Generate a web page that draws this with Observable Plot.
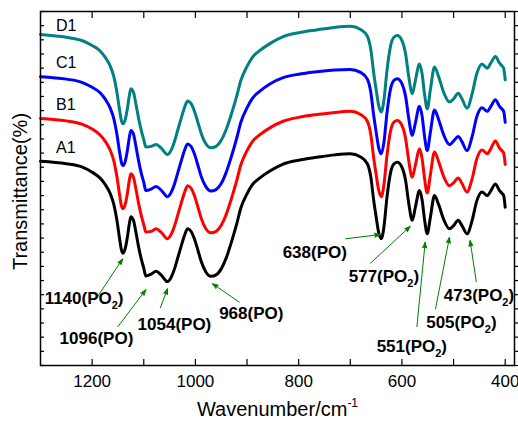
<!DOCTYPE html>
<html>
<head>
<meta charset="utf-8">
<script src="https://cdn.jsdelivr.net/npm/d3@7"></script>
<script src="https://cdn.jsdelivr.net/npm/@observablehq/plot@0.6"></script>
<style>
  body { margin: 0; background: #fff; }
  svg { display: block; }
</style>
</head>
<body>
<div id="chart"></div>
<script>
// FTIR spectra of four samples, transmittance in arbitrary (stacked) units
const wavenumber = [1300, 1250, 1220, 1200, 1185, 1175, 1165, 1158, 1152, 1147, 1143, 1140, 1136, 1132, 1128, 1125, 1120, 1115, 1110, 1105, 1100, 1096, 1086, 1076, 1066, 1054, 1046, 1040, 1034, 1028, 1021, 1015, 1008, 1002, 995, 989, 980, 970, 960, 950, 940, 931, 920, 912, 900, 890, 875, 855, 830, 800, 765, 730, 700, 680, 667, 660, 655, 650, 645, 640, 635, 629, 622, 615, 609, 600, 593, 587, 580, 574, 566, 561, 556, 551, 545, 537, 529, 519, 508, 500, 491, 484, 474, 464, 455, 445, 435, 428, 419, 411, 406, 403, 400];

const A1 = [57.7, 57.0, 56.1, 54.6, 53.0, 51.2, 48.6, 45.5, 41.0, 36.0, 32.5, 31.7, 33.0, 36.0, 40.0, 42.0, 41.0, 37.5, 33.5, 30.2, 27.5, 25.3, 25.8, 26.6, 25.5, 23.7, 25.2, 27.5, 30.5, 33.5, 36.8, 38.6, 37.8, 35.8, 32.5, 29.5, 26.5, 25.2, 25.6, 27.3, 30.5, 34.5, 40.0, 44.5, 48.5, 51.0, 53.0, 55.0, 56.9, 58.0, 58.8, 59.5, 59.8, 58.9, 57.0, 53.0, 47.0, 42.0, 37.5, 35.8, 39.0, 47.5, 54.5, 57.0, 57.4, 56.0, 52.3, 46.0, 41.0, 44.7, 49.4, 46.8, 41.0, 37.2, 41.8, 48.0, 45.5, 41.2, 38.6, 39.5, 41.0, 39.6, 37.2, 41.0, 46.5, 49.0, 48.0, 49.3, 51.3, 49.4, 48.6, 48.0, 44.7];

const B1 = [69.8, 69.1, 68.2, 66.8, 65.2, 63.4, 60.8, 57.8, 53.3, 48.4, 45.0, 44.3, 45.5, 48.4, 52.3, 54.2, 53.2, 49.7, 45.8, 42.5, 39.8, 37.7, 37.9, 38.6, 37.6, 35.8, 37.3, 39.6, 42.6, 45.6, 48.9, 50.8, 50.0, 48.0, 44.7, 41.7, 38.7, 37.5, 37.9, 39.6, 42.8, 46.8, 52.2, 56.7, 60.7, 63.2, 65.2, 67.2, 69.0, 70.1, 70.9, 71.5, 71.8, 70.9, 69.0, 65.0, 59.0, 54.0, 49.5, 47.7, 50.9, 59.3, 66.3, 68.8, 69.2, 67.8, 64.2, 58.0, 53.2, 56.6, 61.2, 58.5, 52.6, 48.7, 53.8, 60.3, 57.6, 53.3, 50.8, 51.6, 53.0, 51.5, 49.0, 52.8, 58.4, 60.9, 59.8, 61.2, 63.4, 61.4, 60.6, 60.0, 56.8];

const C1 = [81.6, 80.9, 80.0, 78.6, 77.1, 75.3, 72.7, 69.7, 65.3, 60.4, 57.2, 56.5, 57.6, 60.5, 64.4, 66.4, 65.4, 61.8, 57.8, 54.4, 51.7, 49.4, 49.8, 50.6, 49.5, 47.7, 49.2, 51.5, 54.5, 57.5, 60.8, 62.6, 61.8, 59.8, 56.5, 53.5, 50.6, 49.3, 49.7, 51.4, 54.7, 58.7, 64.2, 68.7, 72.8, 75.4, 77.5, 79.6, 81.3, 82.3, 83.0, 83.5, 83.6, 82.8, 80.9, 76.9, 71.0, 66.0, 61.5, 59.8, 62.9, 71.3, 78.2, 80.6, 81.0, 79.6, 76.1, 70.0, 65.0, 68.5, 73.2, 70.5, 64.5, 60.7, 65.8, 72.2, 69.5, 65.1, 62.4, 63.4, 64.7, 63.3, 60.7, 64.7, 70.3, 72.8, 71.8, 73.1, 75.1, 73.2, 72.4, 71.8, 68.7];

const D1 = [93.5, 92.7, 91.8, 90.4, 88.9, 87.1, 84.6, 81.6, 77.2, 72.3, 69.0, 68.3, 69.4, 72.3, 76.2, 78.2, 77.2, 73.7, 69.8, 66.5, 63.8, 61.7, 61.9, 62.4, 61.4, 59.6, 61.1, 63.5, 66.6, 69.6, 72.9, 74.7, 73.9, 71.9, 68.6, 65.7, 62.7, 61.5, 61.9, 63.6, 66.8, 70.7, 76.1, 80.5, 84.5, 87.0, 89.0, 91.0, 92.9, 94.0, 94.8, 95.5, 95.8, 94.9, 93.0, 89.0, 83.0, 78.0, 73.4, 71.6, 74.8, 83.3, 90.3, 92.8, 93.2, 91.8, 88.1, 81.8, 76.8, 80.5, 85.2, 82.4, 76.4, 72.5, 77.8, 84.3, 81.6, 77.1, 74.4, 75.3, 76.9, 75.4, 72.7, 76.8, 82.5, 85.2, 84.0, 85.4, 87.3, 85.4, 84.6, 84.0, 80.7];

const sampleNames = ["A1", "B1", "C1", "D1"];
const sampleColors = ["#000000", "#ff0000", "#0000ff", "#008080"];
const sampleLabelY = [61.6, 73.7, 85.5, 95.8];
const sampleLabelX = 1270;

// band assignments and the arrows pointing at them
const peakLabels = ["1140(PO₂)", "1096(PO)", "1054(PO)", "968(PO)", "638(PO)", "577(PO₂)", "551(PO₂)", "505(PO₂)", "473(PO₂)"];
const peakLabelX = [1292, 1263, 1112, 954, 831, 703, 649, 553, 519];
const peakLabelY = [18.9, 7.5, 11.6, 14.6, 32.0, 25.2, 5.4, 12.0, 19.7];
const arrowFromX = [1192, 1150, 1068, 915, 709, 661, 571, 535, 456];
const arrowFromY = [18.9, 11.0, 16.3, 17.9, 35.8, 28.9, 11.0, 16.0, 23.7];
const arrowToX = [1141, 1096, 1054, 967, 642, 584, 555, 508, 468];
const arrowToY = [30.1, 21.4, 21.7, 23.1, 37.0, 39.3, 34.8, 36.2, 35.3];

const xMajorTicks = [1200, 1000, 800, 600, 400];
const xMinorTicks = [1100, 900, 700, 500];
const yTicks = d3.range(0, 101, 4);

const series = [A1, B1, C1, D1];
const spectra = sampleNames.flatMap((name, i) =>
  wavenumber.map((w, j) => ({sample: name, wn: w, t: series[i][j]}))
);
const sampleTable = sampleNames.map((name, i) => ({name, x: sampleLabelX, y: sampleLabelY[i]}));
const peaks = peakLabels.map((label, i) => ({
  label, lx: peakLabelX[i], ly: peakLabelY[i],
  x1: arrowFromX[i], y1: arrowFromY[i], x2: arrowToX[i], y2: arrowToY[i]
}));
const allXTicks = [...xMajorTicks, ...xMinorTicks];

const plot = Plot.plot({
  width: 518,
  height: 429,
  marginLeft: 40,
  marginRight: 4,
  marginTop: 11,
  marginBottom: 64,
  style: {fontFamily: "'Liberation Sans', Arial, sans-serif", background: "white", color: "black"},
  x: {domain: [1300, 382]},
  y: {domain: [0, 100]},
  color: {domain: sampleNames, range: sampleColors},
  marks: [
    // inward tick marks on bottom, top and left, outward on the right
    Plot.axisX(allXTicks, {anchor: "bottom", tickSize: -6, text: null, label: null, strokeWidth: 1.2}),
    Plot.axisX(allXTicks, {anchor: "top", tickSize: -6, text: null, label: null, strokeWidth: 1.2}),
    Plot.axisX(xMajorTicks, {anchor: "bottom", tickSize: 0, tickPadding: 9, fontSize: 17, label: null, tickFormat: d => String(d)}),
    Plot.axisY(yTicks, {anchor: "left", tickSize: -4, text: null, label: null, strokeWidth: 1.2}),
    Plot.axisY(yTicks, {anchor: "right", tickSize: 4, text: null, label: null, strokeWidth: 1.2}),
    Plot.text(["Wavenumber/cm⁻¹"], {frameAnchor: "bottom", dy: 50, fontSize: 20}),
    Plot.text(["Transmittance(%)"], {frameAnchor: "left", textAnchor: "middle", dx: -20, dy: 3, rotate: -90, fontSize: 20}),
    Plot.line(spectra, {x: "wn", y: "t", stroke: "sample", strokeWidth: 3, curve: "monotone-x"}),
    Plot.text(sampleTable, {x: "x", y: "y", text: "name", textAnchor: "start", fontSize: 16}),
    Plot.arrow(peaks, {x1: "x1", y1: "y1", x2: "x2", y2: "y2", stroke: "#008000", strokeWidth: 1, headLength: 9, headAngle: 40}),
    Plot.text(peaks, {x: "lx", y: "ly", text: "label", textAnchor: "start", fontSize: 17, fontWeight: "bold"}),
    Plot.frame({stroke: "black", strokeWidth: 1.5})
  ]
});

// subscripts and superscripts as tspans
d3.select(plot).selectAll("text").each(function () {
  const t = this.textContent;
  const m = t.match(/^(.*?)(₂|⁻¹)(.*)$/);
  if (!m) return;
  const el = d3.select(this);
  el.text(null);
  el.append("tspan").text(m[1]);
  if (m[2] === "₂") {
    el.append("tspan").attr("font-size", 11).attr("dy", 5).text("2");
    el.append("tspan").attr("dy", -5).text(m[3]);
  } else {
    el.append("tspan").attr("font-size", 12).attr("dy", -9).text("-1");
  }
});

// solid arrowheads
d3.select(plot).selectAll('g[aria-label="arrow"] path').attr("fill", "#008000");

document.getElementById("chart").appendChild(plot);
</script>
</body>
</html>
